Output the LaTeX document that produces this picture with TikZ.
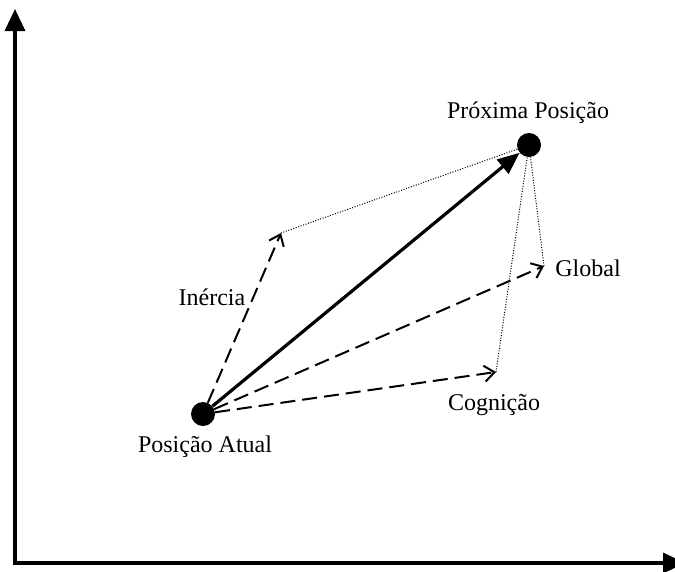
\documentclass[tikz,border=0pt]{standalone}
\usepackage{fontspec}
\setmainfont{Liberation Serif}
\usetikzlibrary{arrows.meta}
\tikzset{
  posdot/.style={circle,fill=black,inner sep=0pt,minimum size=24pt},
  lbl/.style={inner sep=0pt,anchor=base,font=\fontsize{24}{28}\selectfont},
  axis/.style={line width=3.4pt,line join=miter},
  mainarrow/.style={line width=3.2pt,-{Triangle[length=22pt,width=18pt]}},
  dasharrow/.style={line width=2pt,dash pattern=on 15pt off 7pt,
    -{Straight Barb[length=10pt,width=16pt,line width=2pt]}},
  dotline/.style={line width=1pt,dash pattern=on 1pt off 1.6pt}
}
\begin{document}
\begin{tikzpicture}[x=1pt,y=-1pt]
  \clip (0,0) rectangle (675,571);
  % axes
  \coordinate (ytop) at (15,9);
  \coordinate (orig) at (15,563);
  \coordinate (xend) at (685,563);
  \draw[axis,{Triangle[length=22pt,width=20pt]}-{Triangle[length=22pt,width=20pt]}]
    (ytop) -- (orig) -- (xend);
  % positions
  \node[posdot] (cur) at (203,414) {};
  \node[posdot] (next) at (529,145) {};
  % component vector ends
  \coordinate (ine) at (281,233);
  \coordinate (glo) at (544,266);
  \coordinate (cog) at (496,372);
  % resulting movement
  \draw[mainarrow] (cur) -- (next);
  % components
  \draw[dasharrow] (cur) -- (ine);
  \draw[dasharrow] (cur) -- (glo);
  \draw[dasharrow] (cur) -- (cog);
  \draw[dotline] (ine) -- (next);
  \draw[dotline] (glo) -- (next);
  \draw[dotline] (cog) -- (next);
  % labels
  \node[lbl] (lnext) at (528,118) {Próxima Posição};
  \node[lbl] (lcur) at (205,452) {Posição Atual};
  \node[lbl] (line) at (212,305) {Inércia};
  \node[lbl] (lcog) at (494,410) {Cognição};
  \node[lbl] (lglo) at (588,276) {Global};
\end{tikzpicture}
\end{document}
